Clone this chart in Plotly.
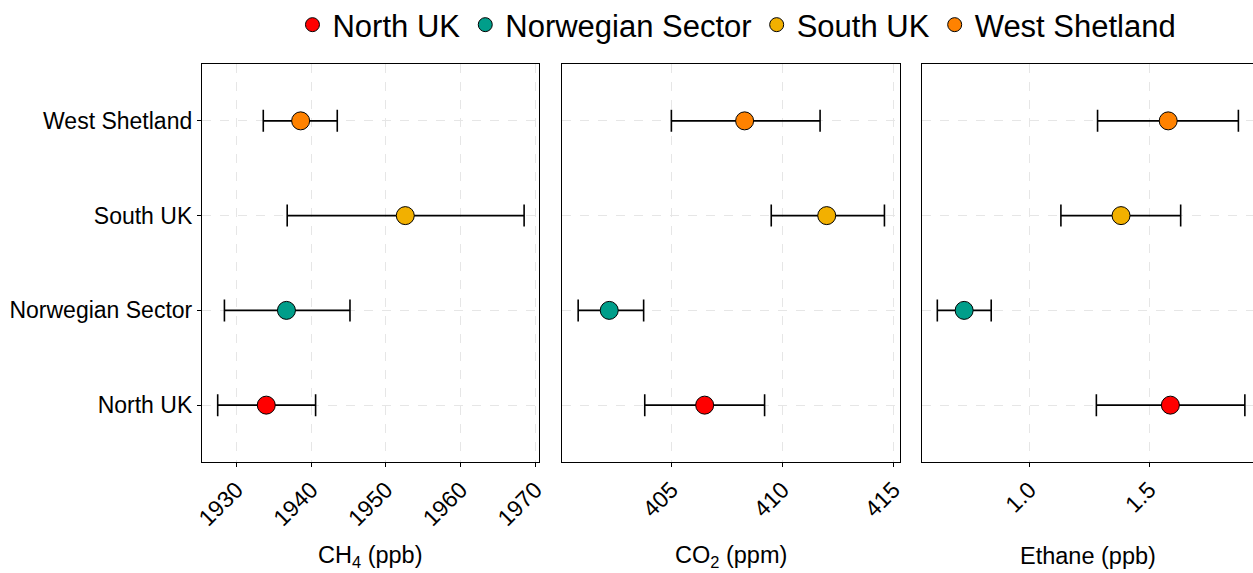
import plotly.graph_objects as go

regions = ["North UK", "Norwegian Sector", "South UK", "West Shetland"]
colors = ["#FF0000", "#009E8A", "#F2B000", "#FF8200"]

ch4_mean = [1934.0, 1936.7, 1952.6, 1938.6]
ch4_low = [1927.5, 1928.4, 1936.8, 1933.6]
ch4_high = [1940.6, 1945.2, 1968.5, 1943.5]

co2_mean = [406.5, 402.2, 412.0, 408.3]
co2_low = [403.8, 400.8, 409.5, 405.0]
co2_high = [409.2, 403.75, 414.6, 411.7]

eth_mean = [1.588, 0.727, 1.382, 1.579]
eth_low = [1.279, 0.615, 1.131, 1.284]
eth_high = [1.899, 0.840, 1.631, 1.872]

x_ticks = [[1930, 1940, 1950, 1960, 1970], [405, 410, 415], [1.0, 1.5]]
x_ticktext = [["1930", "1940", "1950", "1960", "1970"], ["405", "410", "415"], ["1.0", "1.5"]]
titles = ["CH<sub>4</sub> (ppb)", "CO<sub>2</sub> (ppm)", "Ethane (ppb)"]

panels = [(ch4_mean, ch4_low, ch4_high), (co2_mean, co2_low, co2_high), (eth_mean, eth_low, eth_high)]
ranges = [[1925.4, 1970.5], [400.07, 415.3], [0.5512, 1.933]]
domains = [[0.0, 0.3207], [0.3425, 0.6641], [0.6851, 1.0]]

W, H = 1253, 573
ML, MR, MT, MB = 202, 0, 64, 111

fig = go.Figure()
FONT = "Liberation Sans, Arial, sans-serif"

for p, (mean, low, high) in enumerate(panels):
    xa = "x" if p == 0 else f"x{p+1}"
    ya = "y" if p == 0 else f"y{p+1}"
    for i, r in enumerate(regions):
        fig.add_trace(go.Scatter(
            x=[mean[i]], y=[r], mode="markers",
            marker=dict(color=colors[i], size=18, line=dict(color="black", width=1)),
            error_x=dict(type="data", symmetric=False,
                         array=[high[i] - mean[i]], arrayminus=[mean[i] - low[i]],
                         color="black", thickness=1.6, width=11),
            showlegend=False, legendgroup=r, xaxis=xa, yaxis=ya, hoverinfo="skip"))

# legend entries
for i, r in enumerate(regions):
    fig.add_trace(go.Scatter(
        x=[None], y=[None], mode="markers", name=r, legendgroup=r,
        marker=dict(color=colors[i], size=14, line=dict(color="black", width=1)),
        showlegend=True))

grid = dict(showgrid=True, gridcolor="#E6E6E6", griddash="dash", gridwidth=1)
for p in range(3):
    key = "xaxis" if p == 0 else f"xaxis{p+1}"
    ykey = "yaxis" if p == 0 else f"yaxis{p+1}"
    fig.layout[key] = dict(
        domain=domains[p], range=ranges[p], anchor="y" if p == 0 else f"y{p+1}",
        tickmode="array", tickvals=x_ticks[p], ticktext=x_ticktext[p],
        tickangle=-45, ticks="outside", ticklen=4, tickcolor="black",
        tickfont=dict(family=FONT, size=23, color="black"),
        showline=True, linecolor="black", linewidth=1.3, mirror=True,
        zeroline=False, automargin=False, **grid)
    fig.layout[ykey] = dict(
        domain=[0, 1], anchor="x" if p == 0 else f"x{p+1}",
        type="category", categoryorder="array", categoryarray=regions,
        range=[-0.6, 3.6],
        showticklabels=(p == 0), ticks="outside" if p == 0 else "",
        ticklen=4, tickcolor="black",
        tickfont=dict(family=FONT, size=23, color="black"),
        showline=True, linecolor="black", linewidth=1.3, mirror=(p < 2),
        zeroline=False, automargin=False, **grid)
    fig.add_annotation(
        text=titles[p], xref="paper", yref="paper",
        x=(domains[p][0] + domains[p][1]) / 2, y=-(556 - (H - MB)) / (H - MT - MB),
        xanchor="center", yanchor="middle", showarrow=False,
        font=dict(family=FONT, size=23.5, color="black"))

fig.update_layout(
    width=W, height=H,
    margin=dict(l=ML, r=MR, t=MT, b=MB, autoexpand=False),
    paper_bgcolor="white", plot_bgcolor="white",
    legend=dict(orientation="h", x=0.509, xanchor="center",
                y=1 + (MT - 25) / (H - MT - MB), yanchor="middle",
                font=dict(family=FONT, size=31, color="black"),
                itemsizing="trace", bgcolor="rgba(0,0,0,0)"),
    font=dict(family=FONT),
)

fig.write_html("out.html")
